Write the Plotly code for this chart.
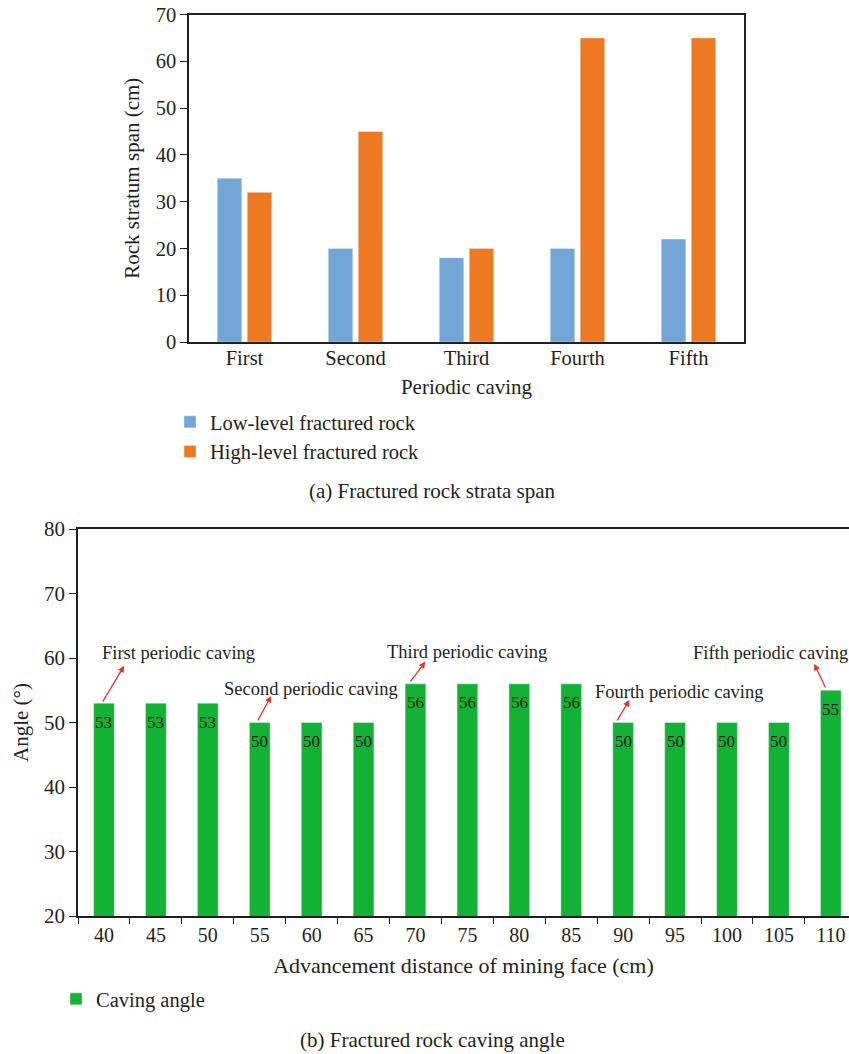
import plotly.graph_objects as go

# Panel (a): rock strata span per periodic caving
periods = ["First", "Second", "Third", "Fourth", "Fifth"]
low_level = [35, 20, 18, 20, 22]
high_level = [32, 45, 20, 65, 65]
span_ticks = [0, 10, 20, 30, 40, 50, 60, 70]

# Panel (b): caving angle vs advancement distance
distances = ["40", "45", "50", "55", "60", "65", "70", "75", "80", "85",
             "90", "95", "100", "105", "110"]
caving_angle = [53, 53, 53, 50, 50, 50, 56, 56, 56, 56, 50, 50, 50, 50, 55]
angle_ticks = [20, 30, 40, 50, 60, 70, 80]

# Callouts: (label, arrow tail x, tail y, head x, head y, text x, text y)
callouts = [
    ("First periodic caving", -0.04, 53.0, 0.39, 58.8, 1.44, 60.8),
    ("Second periodic caving", 2.95, 50.1, 3.22, 54.1, 3.99, 55.2),
    ("Third periodic caving", 5.88, 56.1, 6.19, 59.4, 7.0, 60.9),
    ("Fourth periodic caving", 9.87, 50.1, 10.12, 53.5, 11.08, 54.7),
    ("Fifth periodic caving", 13.91, 55.2, 13.68, 59.1, 12.83, 60.8),
]

FONT = "Liberation Serif"
INK = "#231F20"
BLUE = "#72A6D6"
ORANGE = "#ED7A22"
GREEN = "#13B134"
RED = "#E53528"

W, H = 849, 1054

fig = go.Figure()

fig.add_trace(go.Bar(x=periods, y=low_level, name="Low-level fractured rock",
                     marker_color=BLUE, xaxis="x", yaxis="y", legend="legend"))
fig.add_trace(go.Bar(x=periods, y=high_level, name="High-level fractured rock",
                     marker_color=ORANGE, xaxis="x", yaxis="y", legend="legend"))
fig.add_trace(go.Bar(x=distances, y=caving_angle, name="Caving angle",
                     marker_color=GREEN, xaxis="x2", yaxis="y2", legend="legend2",
                     width=0.4))

annotations = []
# value labels inside the green bars
for i, v in enumerate(caving_angle):
    annotations.append(dict(x=i, y=v, xref="x2", yref="y2", text=str(v),
                            showarrow=False, yshift=-19,
                            font=dict(family=FONT, size=17, color=INK)))
# red callout arrows and their labels
for label, tx, ty, hx, hy, lx, ly in callouts:
    annotations.append(dict(x=hx, y=hy, xref="x2", yref="y2",
                            ax=tx, ay=ty, axref="x2", ayref="y2",
                            text="", showarrow=True, arrowhead=2, arrowsize=1,
                            arrowwidth=1.3, arrowcolor=RED, standoff=0,
                            startstandoff=0))
    annotations.append(dict(x=lx, y=ly, xref="x2", yref="y2", text=label,
                            showarrow=False,
                            font=dict(family=FONT, size=18.5, color=INK)))

# panel captions
annotations.append(dict(x=433 / W, y=1 - 491 / H, xref="paper", yref="paper",
                        xanchor="center", yanchor="middle",
                        text="(a) Fractured rock strata span", showarrow=False,
                        font=dict(family=FONT, size=21, color=INK)))
annotations.append(dict(x=433 / W, y=1 - 1040 / H, xref="paper", yref="paper",
                        xanchor="center", yanchor="middle",
                        text="(b) Fractured rock caving angle", showarrow=False,
                        font=dict(family=FONT, size=21, color=INK)))

axis_common = dict(showgrid=False, zeroline=False, linecolor=INK, linewidth=1.5,
                   automargin=False, tickcolor=INK)

fig.update_layout(
    width=W, height=H,
    margin=dict(l=0, r=0, t=0, b=0, autoexpand=False),
    paper_bgcolor="white", plot_bgcolor="white",
    font=dict(family=FONT, color=INK),
    barmode="group", bargap=0.46, bargroupgap=0.18,
    xaxis=dict(domain=[189 / W, 744 / W], anchor="y", mirror=True, showline=True,
               ticks="", tickfont=dict(family=FONT, size=20.5, color=INK),
               ticklabelstandoff=-3,
               title=dict(text="Periodic caving", standoff=11,
                          font=dict(family=FONT, size=21, color=INK)),
               **axis_common),
    yaxis=dict(domain=[1 - 342 / H, 1 - 14.5 / H], anchor="x", range=[0, 70],
               tickvals=span_ticks, mirror=True, showline=True, ticks="outside",
               ticklen=7, tickwidth=1.2,
               tickfont=dict(family=FONT, size=20.5, color=INK),
               title=dict(text="Rock stratum span (cm)", standoff=10,
                          font=dict(family=FONT, size=21, color=INK)),
               **axis_common),
    xaxis2=dict(domain=[78 / W, 1.0], anchor="y2", range=[-0.5, 14.35],
                showline=True, mirror=True, ticks="outside", tickson="boundaries",
                ticklen=6, tickwidth=1.2,
                tickfont=dict(family=FONT, size=20, color=INK),
                title=dict(text="Advancement distance of mining face (cm)",
                           standoff=13, font=dict(family=FONT, size=22, color=INK)),
                **axis_common),
    yaxis2=dict(domain=[1 - 916 / H, 1 - 529 / H], anchor="x2", range=[20, 80],
                tickvals=angle_ticks, showline=True, ticks="outside",
                ticklen=7, tickwidth=1.2,
                tickfont=dict(family=FONT, size=21, color=INK),
                title=dict(text="Angle (°)", standoff=10,
                           font=dict(family=FONT, size=21, color=INK)),
                **axis_common),
    legend=dict(x=170 / W, y=1 - 402 / H, xanchor="left", yanchor="top",
                font=dict(family=FONT, size=20.5, color=INK),
                bgcolor="rgba(0,0,0,0)", tracegroupgap=0),
    legend2=dict(x=56 / W, y=1 - 979 / H, xanchor="left", yanchor="top",
                 font=dict(family=FONT, size=20.5, color=INK),
                 bgcolor="rgba(0,0,0,0)"),
    annotations=annotations,
    showlegend=True,
)

fig.write_html("out.html")
